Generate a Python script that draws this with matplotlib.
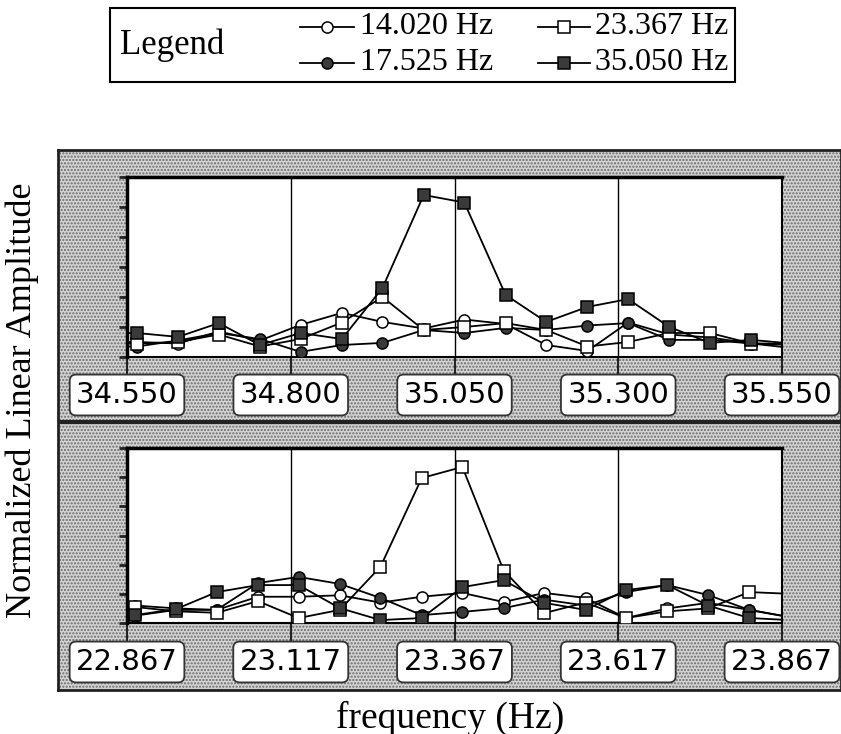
import matplotlib
matplotlib.use('Agg')
import matplotlib.pyplot as plt
from matplotlib.patches import Rectangle
from matplotlib.lines import Line2D
import matplotlib.transforms as mtransforms

# ---------------- data ----------------
series_names = ['14.020 Hz', '17.525 Hz', '23.367 Hz', '35.050 Hz']

# upper panel (around 35.050 Hz)
top_ticks = [34.55, 34.80, 35.05, 35.30, 35.55]
top_tick_labels = ['34.550', '34.800', '35.050', '35.300', '35.550']
top_freq = [34.503, 34.565, 34.628, 34.690, 34.753, 34.815, 34.878, 34.940, 35.003,
            35.065, 35.128, 35.190, 35.253, 35.315, 35.378, 35.440, 35.503, 35.565]
top_14020 = [0.50, 0.50, 0.45, 0.85, 0.55, 1.07, 1.47, 1.17, 0.95,
             1.25, 1.10, 0.40, 0.20, 1.15, 0.75, 0.65, 0.45, 0.40]
top_17525 = [0.35, 0.35, 0.55, 0.80, 0.60, 0.17, 0.40, 0.47, 0.90,
             0.80, 0.97, 0.90, 1.05, 1.13, 0.57, 0.57, 0.45, 0.30]
top_23367 = [0.45, 0.45, 0.50, 0.75, 0.35, 0.60, 1.15, 2.00, 0.90,
             1.00, 1.13, 0.90, 0.35, 0.50, 0.80, 0.80, 0.45, 0.45]
top_35050 = [0.80, 0.80, 0.67, 1.13, 0.40, 0.80, 0.60, 2.30, 5.40,
             5.15, 2.07, 1.17, 1.67, 1.93, 1.00, 0.47, 0.57, 0.45]

# lower panel (around 23.367 Hz)
bot_ticks = [22.867, 23.117, 23.367, 23.617, 23.867]
bot_tick_labels = ['22.867', '23.117', '23.367', '23.617', '23.867']
bot_freq = [22.817, 22.879, 22.942, 23.004, 23.067, 23.129, 23.192, 23.254, 23.317,
            23.379, 23.442, 23.504, 23.567, 23.629, 23.692, 23.754, 23.817, 23.879]
bot_14020 = [0.60, 0.60, 0.50, 0.45, 0.90, 0.90, 0.95, 0.70, 0.90,
             1.03, 0.72, 1.03, 0.86, 0.17, 0.50, 0.69, 0.45, 0.20]
bot_17525 = [0.25, 0.25, 0.45, 0.45, 1.37, 1.58, 1.34, 0.86, 0.27,
             0.38, 0.51, 0.80, 0.60, 1.06, 1.30, 0.96, 0.45, 0.20]
bot_23367 = [0.50, 0.55, 0.40, 0.35, 0.75, 0.17, 0.45, 1.93, 4.97,
             5.35, 1.80, 0.34, 0.70, 0.17, 0.40, 0.50, 1.06, 1.00]
bot_35050 = [0.27, 0.27, 0.48, 1.06, 1.30, 1.30, 0.51, 0.10, 0.17,
             1.23, 1.47, 0.69, 0.45, 1.13, 1.30, 0.60, 0.17, 0.10]

y_ticks = [0, 1, 2, 3, 4, 5, 6]

# ---------------- styling ----------------
W, H = 841, 734
SERIF = ['Liberation Serif', 'DejaVu Serif']
SANS = ['DejaVu Sans']
GRAY = '#d2d2d2'

styles = [
    dict(marker='o', mfc='white', mec='black'),
    dict(marker='o', mfc='#3a3a3a', mec='black'),
    dict(marker='s', mfc='white', mec='black'),
    dict(marker='s', mfc='#3a3a3a', mec='black'),
]

plt.rcParams['hatch.linewidth'] = 1.0

fig = plt.figure(figsize=(W / 100, H / 100), dpi=100)
fig.patch.set_facecolor('white')


def fx(x):
    return x / W


def fy(y):
    return 1 - y / H


# outer stippled panel (background axes)
bg = fig.add_axes([fx(58), fy(690), fx(841) - fx(58), fy(150) - fy(690)])
bg.set_facecolor(GRAY)
bg.add_patch(Rectangle((0, 0), 1, 1, transform=bg.transAxes, facecolor='none',
                       edgecolor='#6a6a6a', lw=0, hatch='.....'))
bg.set_xticks([])
bg.set_yticks([])
for s in bg.spines.values():
    s.set_linewidth(2.0)
    s.set_color('#222222')
bg.set_zorder(0)
# separator between the two panels
bg.axhline((690 - 422) / (690 - 150), color='#222222', lw=3.0)


def make_panel(top_px, bot_px, freq, data, ticks, tick_labels, label_center_px):
    ax = fig.add_axes([fx(127), fy(bot_px), fx(782) - fx(127), fy(top_px) - fy(bot_px)])
    ax.set_zorder(2)
    ax.set_facecolor('white')
    ax.set_xlim(ticks[0], ticks[-1])
    ax.set_ylim(0, 6)
    for t in ticks[1:-1]:
        ax.axvline(t, color='black', lw=1.0, zorder=1)
    for vals, st in zip(data, styles):
        ax.plot(freq, vals, color='black', lw=1.3, ms=8, mew=1.1, zorder=3, **st)
    ax.set_xticks(ticks)
    ax.set_yticks(y_ticks)
    ax.tick_params(axis='x', direction='out', length=13, width=1.5, color='#222222',
                   labelbottom=False)
    ax.tick_params(axis='y', direction='out', length=6, width=2.0, color='#222222',
                   labelleft=False)
    for s in ['top', 'left']:
        ax.spines[s].set_linewidth(2.5)
    for s in ['bottom', 'right']:
        ax.spines[s].set_linewidth(1.5)
    trans = mtransforms.blended_transform_factory(ax.transData, ax.transAxes)
    yfrac = (bot_px - label_center_px) / (bot_px - top_px)
    for t, lab in zip(ticks, tick_labels):
        ax.text(t, yfrac, lab, transform=trans, ha='center', va='center',
                fontsize=21, family=SANS, color='black', clip_on=False, zorder=5,
                bbox=dict(boxstyle='round,pad=0.22', fc='white', ec='#333333', lw=1.3))
    return ax


make_panel(177, 357, top_freq, [top_14020, top_17525, top_23367, top_35050],
           top_ticks, top_tick_labels, 395)
make_panel(448, 623, bot_freq, [bot_14020, bot_17525, bot_23367, bot_35050],
           bot_ticks, bot_tick_labels, 662)

# axis labels
fig.text(fx(22), fy(400), 'Normalized Linear Amplitude', rotation=90, ha='center',
         va='center', fontsize=26, family=SERIF)
fig.text(fx(450), fy(718), 'frequency (Hz)', ha='center', va='center',
         fontsize=27, family=SERIF)

# legend box
fig.patches.append(Rectangle((fx(110), fy(82)), fx(735) - fx(110), fy(8) - fy(82),
                             transform=fig.transFigure, facecolor='white',
                             edgecolor='black', lw=1.5, zorder=2))
fig.text(fx(120), fy(45), 'Legend', ha='left', va='center', fontsize=25,
         family=SERIF, zorder=3)
leg_pos = [(300, 354, 360, 27), (300, 354, 360, 63), (538, 590, 595, 27), (538, 590, 595, 63)]
for (x0, x1, xt, yy), name, st in zip(leg_pos, series_names, styles):
    fig.add_artist(Line2D([fx(x0), fx(x1)], [fy(yy), fy(yy)], transform=fig.transFigure,
                          color='black', lw=1.3, zorder=3))
    fig.add_artist(Line2D([fx((x0 + x1) / 2)], [fy(yy)], transform=fig.transFigure,
                          color='black', lw=0, ms=8, mew=1.1, zorder=4, **st))
    fig.text(fx(xt), fy(yy), name, ha='left', va='center', fontsize=23, family=SERIF,
             zorder=4)

fig.savefig('out.png', dpi=100)
